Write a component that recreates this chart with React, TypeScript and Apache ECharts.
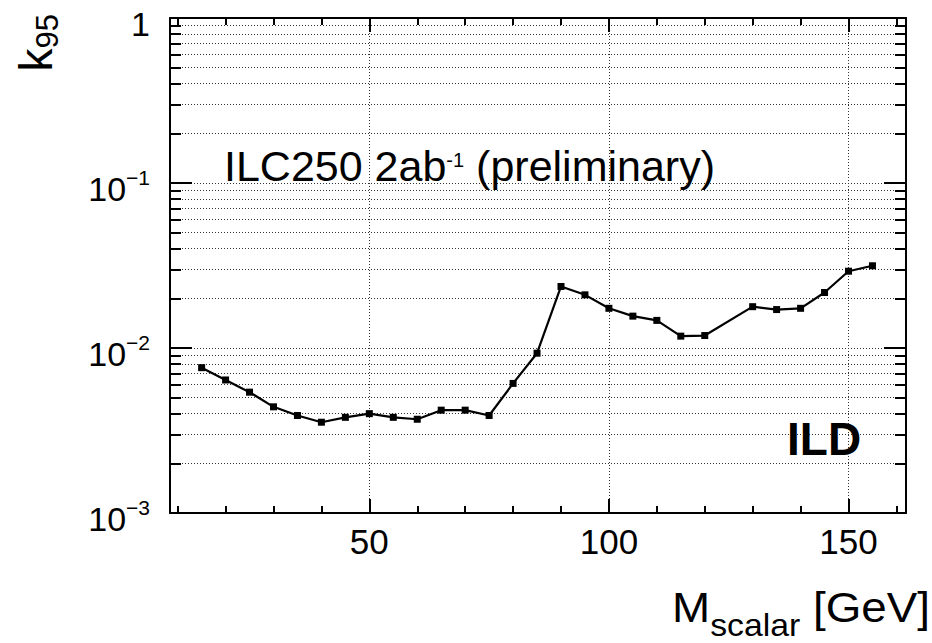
import React, { useEffect, useRef } from 'react';
import * as echarts from 'echarts';

// ---- data ----
const masses = [15, 20, 25, 30, 35, 40, 45, 50, 55, 60, 65, 70, 75, 80, 85, 90, 95, 100, 105, 110, 115, 120, 130, 135, 140, 145, 150, 155];
const k95Limits = [0.0076, 0.0064, 0.0054, 0.0044, 0.0039, 0.00355, 0.0038, 0.0040, 0.0038, 0.0037, 0.0042, 0.0042, 0.0039, 0.0061, 0.0093, 0.0236, 0.0210, 0.0174, 0.0156, 0.0147, 0.0118, 0.0119, 0.0178, 0.0171, 0.0174, 0.0217, 0.0292, 0.0315];

const xMajorTicks = [50, 100, 150];
const xMinorTicks = [10, 20, 30, 40, 60, 70, 80, 90, 110, 120, 130, 140, 160];
const yDecades = [0.001, 0.01, 0.1, 1];
const yMinorMultipliers = [2, 3, 4, 5, 6, 7, 8, 9];
const yMinorTicks = yDecades.slice(0, 3).flatMap((d) => yMinorMultipliers.map((m) => m * d));

const X_MIN = 8.4;
const X_MAX = 162;
const Y_MIN = 0.001;
const Y_MAX = 1;

const FONT = 'Liberation Sans';
const gridDotted = { color: '#333', width: 1, type: [1, 2] as number[] };
const frameLine = { show: true, lineStyle: { color: '#000', width: 2 } };

function yLabel(v: number): string {
  const e = Math.round(Math.log10(v));
  if (e === 0) return '{b|1}';
  return `{b|10}{s|\u2212${-e}}`;
}

export default function App() {
  const ref = useRef<HTMLDivElement>(null);

  useEffect(() => {
    if (!ref.current) return;
    const chart = echarts.init(ref.current, undefined, { renderer: 'svg' });

    const xBase = (position: 'top' | 'bottom') => ({
      type: 'value' as const,
      min: X_MIN,
      max: X_MAX,
      position,
      splitLine: { show: false },
      axisLabel: { show: false },
      axisLine: { show: false },
    });
    const yBase = (position: 'left' | 'right') => ({
      type: 'log' as const,
      logBase: 10,
      min: Y_MIN,
      max: Y_MAX,
      position,
      splitLine: { show: false },
      axisLabel: { show: false },
      axisLine: { show: false },
    });
    const tickStyle = { color: '#000', width: 2 };

    chart.setOption({
      animation: false,
      backgroundColor: '#fff',
      grid: { left: 170, right: 26, top: 18, bottom: 130, containLabel: false, outerBoundsMode: 'none' },
      xAxis: [
        {
          ...xBase('bottom'),
          axisLine: frameLine,
          axisTick: { show: true, inside: true, length: 14, customValues: xMajorTicks, lineStyle: tickStyle },
          axisLabel: {
            show: true,
            customValues: xMajorTicks,
            fontFamily: FONT,
            fontSize: 35,
            color: '#000',
            margin: 11,
          },
          splitLine: { show: true, lineStyle: gridDotted },
        },
        {
          ...xBase('bottom'),
          axisTick: { show: true, inside: true, length: 7, customValues: xMinorTicks, lineStyle: tickStyle },
        },
        {
          ...xBase('top'),
          axisLine: frameLine,
          axisTick: { show: true, inside: true, length: 14, customValues: xMajorTicks, lineStyle: tickStyle },
        },
        {
          ...xBase('top'),
          axisTick: { show: true, inside: true, length: 7, customValues: xMinorTicks, lineStyle: tickStyle },
        },
      ],
      yAxis: [
        {
          ...yBase('left'),
          axisLine: frameLine,
          axisTick: { show: true, inside: true, length: 22, customValues: yDecades, lineStyle: tickStyle },
          axisLabel: {
            show: true,
            customValues: yDecades,
            formatter: yLabel,
            margin: 20,
            padding: [12, 0, 0, 0],
            rich: {
              b: { fontFamily: FONT, fontSize: 34, lineHeight: 44, color: '#000' },
              s: { fontFamily: FONT, fontSize: 21, lineHeight: 21, verticalAlign: 'top', color: '#000' },
            },
          },
          splitLine: { show: true, lineStyle: gridDotted },
        },
        {
          ...yBase('left'),
          axisTick: { show: true, inside: true, length: 11, customValues: yMinorTicks, lineStyle: tickStyle },
          splitLine: { show: true, lineStyle: gridDotted },
        },
        {
          ...yBase('right'),
          axisLine: frameLine,
          axisTick: { show: true, inside: true, length: 22, customValues: yDecades, lineStyle: tickStyle },
        },
        {
          ...yBase('right'),
          axisTick: { show: true, inside: true, length: 11, customValues: yMinorTicks, lineStyle: tickStyle },
        },
      ],
      series: [
        {
          type: 'line',
          xAxisIndex: 0,
          yAxisIndex: 0,
          data: masses.map((m, i) => [m, k95Limits[i]]),
          symbol: 'rect',
          symbolSize: 7,
          showSymbol: true,
          itemStyle: { color: '#000' },
          lineStyle: { color: '#000', width: 2.2 },
          z: 5,
        },
      ],
      graphic: [
        {
          type: 'text',
          x: 224,
          y: 165.5,
          z: 10,
          style: {
            text: '{m|ILC250 2ab}{s|-1}{m| (preliminary)}',
            align: 'left',
            verticalAlign: 'middle',
            fill: '#000',
            rich: {
              m: { fontFamily: FONT, fontSize: 43, lineHeight: 43, fill: '#000' },
              s: { fontFamily: FONT, fontSize: 20, verticalAlign: 'top', padding: [6, 0, 0, 0], fill: '#000' },
            },
          },
        },
        {
          type: 'text',
          x: 787,
          y: 439,
          z: 10,
          style: {
            text: 'ILD',
            fontFamily: FONT,
            fontSize: 46,
            fontWeight: 'bold',
            fill: '#000',
            align: 'left',
            verticalAlign: 'middle',
          },
        },
        {
          type: 'text',
          x: 12.5,
          y: 14,
          rotation: Math.PI / 2,
          z: 10,
          style: {
            text: '{k|k}{s|95}',
            align: 'right',
            verticalAlign: 'top',
            fill: '#000',
            rich: {
              k: { fontFamily: FONT, fontSize: 46, verticalAlign: 'top', fill: '#000' },
              s: { fontFamily: FONT, fontSize: 31, verticalAlign: 'top', padding: [19, 0, 0, 0], fill: '#000' },
            },
          },
        },
        {
          type: 'text',
          x: 930,
          y: 586,
          scaleX: 1.09,
          z: 10,
          style: {
            text: '{m|M}{s|scalar}{m| [GeV]}',
            align: 'right',
            verticalAlign: 'top',
            fill: '#000',
            rich: {
              m: { fontFamily: FONT, fontSize: 42, verticalAlign: 'top', fill: '#000' },
              s: { fontFamily: FONT, fontSize: 31, verticalAlign: 'top', padding: [24, 0, 0, 0], fill: '#000' },
            },
          },
        },
      ],
    });

    return () => chart.dispose();
  }, []);

  return (
    <div
      ref={ref}
      style={{ position: 'fixed', left: 0, top: 0, width: 932, height: 643, background: '#fff' }}
    />
  );
}
